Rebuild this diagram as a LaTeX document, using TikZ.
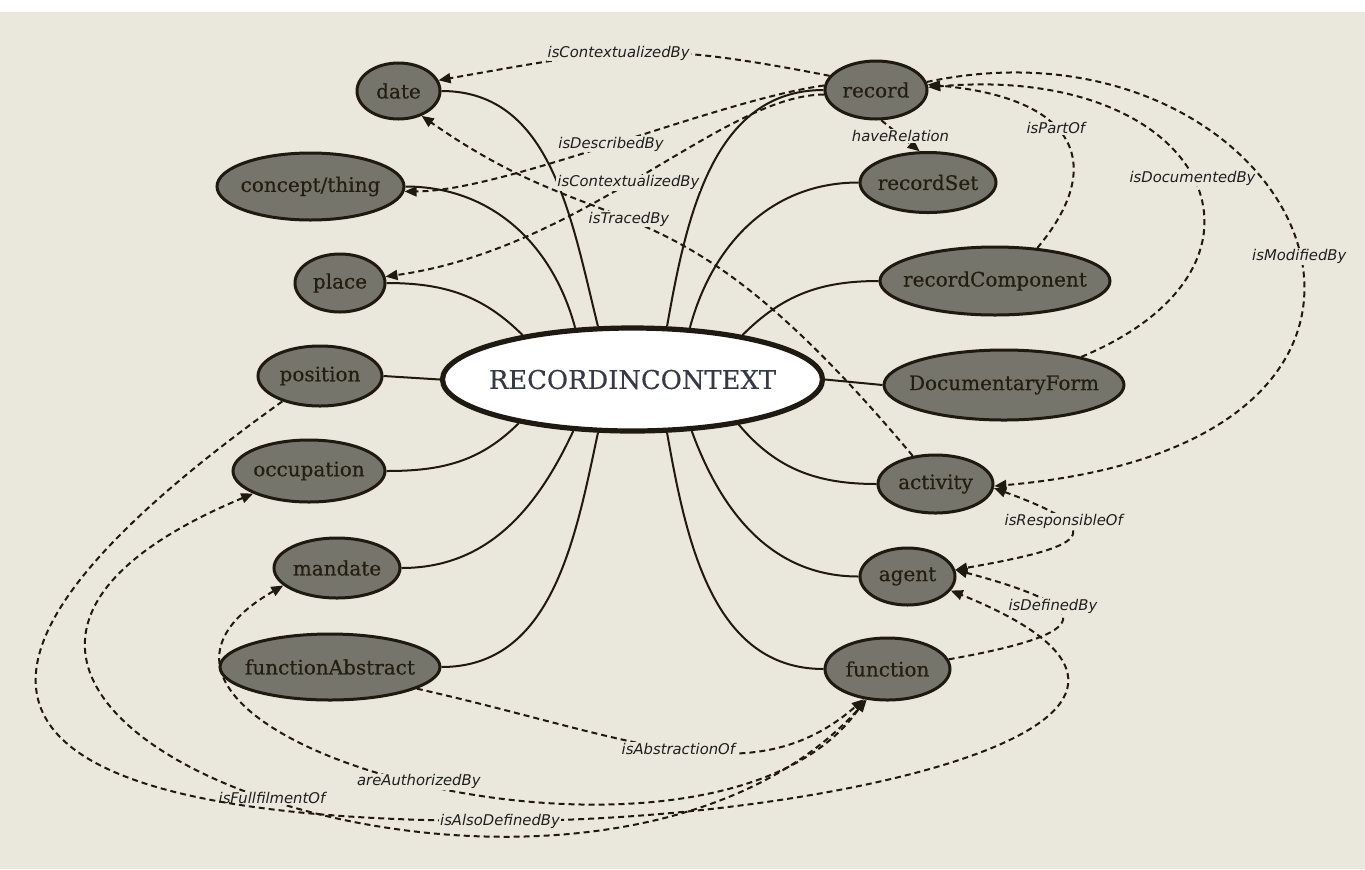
\documentclass[tikz,border=0pt]{standalone}
\usepackage{fontspec}
\usepackage{tikz}
\usetikzlibrary{arrows.meta, shapes.geometric}
\newfontfamily\entfont{DejaVu Serif}[FakeBold=0.4]
\newfontfamily\relfont{DejaVu Sans}
\definecolor{Canvas}  {HTML}{EAE7DC}
\definecolor{Slate}   {HTML}{76756C}
\definecolor{Ink}     {HTML}{1E1A12}
\definecolor{InkText} {HTML}{231D12}
\definecolor{HubText} {HTML}{363A45}
\definecolor{LabelInk}{HTML}{1E1E1E}

\begin{document}
\begin{tikzpicture}[x=0.5pt, y=0.5pt,
  >={Triangle[length=6pt,width=5pt]},
  ent/.style={ellipse, draw=Ink, line width=1.5pt, fill=Slate, text=InkText,
              inner sep=0pt, font=\entfont\fontsize{10}{12}\selectfont,
              execute at begin node={\hbox to 0pt\bgroup\hss},
              execute at end node={\hss\egroup}},
  link/.style={draw=Ink, line width=1pt},
  rel/.style={draw=Ink, line width=1pt, dash pattern=on 3pt off 2pt},
  lbl/.style={fill=Canvas, text=LabelInk, inner sep=0.5pt,
              font=\relfont\itshape\fontsize{7.4}{8.5}\selectfont}]
  % Canvas
  \fill[white] (0,0) rectangle (1365,-869);
  \fill[Canvas] (0,-12) rectangle (1365,-869);
  \useasboundingbox (0,0) rectangle (1365,-869);

  % Centre node
  \node[ent, fill=white, line width=2.6pt, text=HubText,
        minimum width=190pt, minimum height=51.5pt,
        font=\entfont\fontsize{12.9}{15}\selectfont] (hub) at (632.5,-379.5) {RECORDINCONTEXT};

  % Left column
  \node[ent, minimum width=41.5pt, minimum height=28pt]   (date)         at (398.5,-91)  {date};
  \node[ent, minimum width=93.5pt, minimum height=33.5pt] (concept)      at (310.5,-186.5) {concept/thing};
  \node[ent, minimum width=45pt,   minimum height=29pt]   (place)        at (340,-283)   {place};
  \node[ent, minimum width=62pt,   minimum height=30pt]   (position)     at (320,-376)   {position};
  \node[ent, minimum width=76pt,   minimum height=31pt]   (occupation)   at (309,-471)   {occupation};
  \node[ent, minimum width=63pt,   minimum height=30pt]   (mandate)      at (337,-568)   {mandate};
  \node[ent, minimum width=110pt,  minimum height=33pt]   (funcAbstract) at (330,-667)   {functionAbstract};

  % Right column
  \node[ent, minimum width=51pt,   minimum height=29pt]   (record)       at (876,-90)    {record};
  \node[ent, minimum width=68pt,   minimum height=30pt]   (recordSet)    at (928,-182.5) {recordSet};
  \node[ent, minimum width=115pt,  minimum height=34pt]   (recordComp)   at (995,-281)   {recordComponent};
  \node[ent, minimum width=120pt,  minimum height=35pt]   (docForm)      at (1004,-385)  {DocumentaryForm};
  \node[ent, minimum width=57.5pt, minimum height=29pt]   (activity)     at (935.5,-484) {activity};
  \node[ent, minimum width=47.5pt, minimum height=28.5pt] (agent)        at (907.5,-576.5) {agent};
  \node[ent, minimum width=62.5pt, minimum height=31pt]   (function)     at (887.5,-669) {function};

  % Links to the centre
  \draw[link] (hub.123) to[out=104, in=0]   (date.east);
  \draw[link] (hub.138) to[out=105, in=0]   (concept.east);
  \draw[link] (hub.158) to[out=135, in=0]   (place.east);
  \draw[link] (hub.west) -- (position.east);
  \draw[link] (hub.201) to[out=225, in=0]   (occupation.east);
  \draw[link] (hub.221) to[out=245, in=0]   (mandate.east);
  \draw[link] (hub.237) to[out=258, in=0]   (funcAbstract.east);
  \draw[link] (hub.57)  to[out=80, in=180]  (record.west);
  \draw[link] (hub.42)  to[out=75, in=180]  (recordSet.west);
  \draw[link] (hub.22)  to[out=45, in=180]  (recordComp.west);
  \draw[link] (hub.east) -- (docForm.west);
  \draw[link] (hub.-23) to[out=-50, in=180] (activity.west);
  \draw[link] (hub.-41) to[out=-70, in=180] (agent.west);
  \draw[link] (hub.-57) to[out=-80, in=180] (function.west);

  % Relations around record
  \draw[rel,->] (record.163) .. controls +(169:186) and +(10:186) .. (date.15)
        node[lbl, pos=0.55] {isContextualizedBy};
  \draw[rel,->] (record.175) .. controls +(188:110) and +(0:100) .. (concept.-3)
        node[lbl, pos=0.5] {isDescribedBy};
  \draw[rel,->] (record.185) .. controls +(180:100) and +(8:200) .. (place.8)
        node[lbl, pos=0.53] {isContextualizedBy};
  \draw[rel,->] (activity.129) .. controls +(130:381) and +(-35:240) .. (date.-47)
        node[lbl, pos=0.55] {isTracedBy};
  \draw[rel,->] (record.-80) -- (recordSet.105)
        node[lbl, midway] {haveRelation};
  \draw[rel,->] (recordComp.38) .. controls +(50:109) and +(-5:150) .. (record.6)
        node[lbl, pos=0.57] {isPartOf};
  \draw[rel,->] (docForm.20) .. controls +(22.6:240) and +(5:280) .. (record.3)
        node[lbl, pos=0.5] {isDocumentedBy};
  \draw[rel,->] (record.9) .. controls +(12:380) and +(5:520) .. (activity.-2)
        node[lbl, pos=0.53] {isModifiedBy};

  % Relations around agent and function
  \draw[rel,<->] (activity.-4) .. controls +(-20:130) and +(10:130) .. (agent.8)
        node[lbl, pos=0.3] {isResponsibleOf};
  \draw[rel,->] (function.9) .. controls +(10:150) and +(-15:150) .. (agent.8)
        node[lbl, pos=0.65] {isDefinedBy};
  \draw[rel,->] (funcAbstract.-14) .. controls +(-12.7:220) and +(221:150) .. (function.232)
        node[lbl, pos=0.5] {isAbstractionOf};
  \draw[rel,<->] (mandate.198) .. controls +(210:300) and +(235:270) .. (function.234)
        node[lbl, pos=0.5] {areAuthorizedBy};
  \draw[rel,<->] (occupation.202) .. controls +(202.7:560) and +(228:420) .. (function.236)
        node[lbl, pos=0.51] {isFullfilmentOf};
  \draw[rel,->] (position.214) .. controls +(215.5:550) and +(180:450) .. (500,-821)
        node[lbl] {isAlsoDefinedBy}
        .. controls +(0:330) and +(-22:350) .. (agent.-18);
\end{tikzpicture}
\end{document}
